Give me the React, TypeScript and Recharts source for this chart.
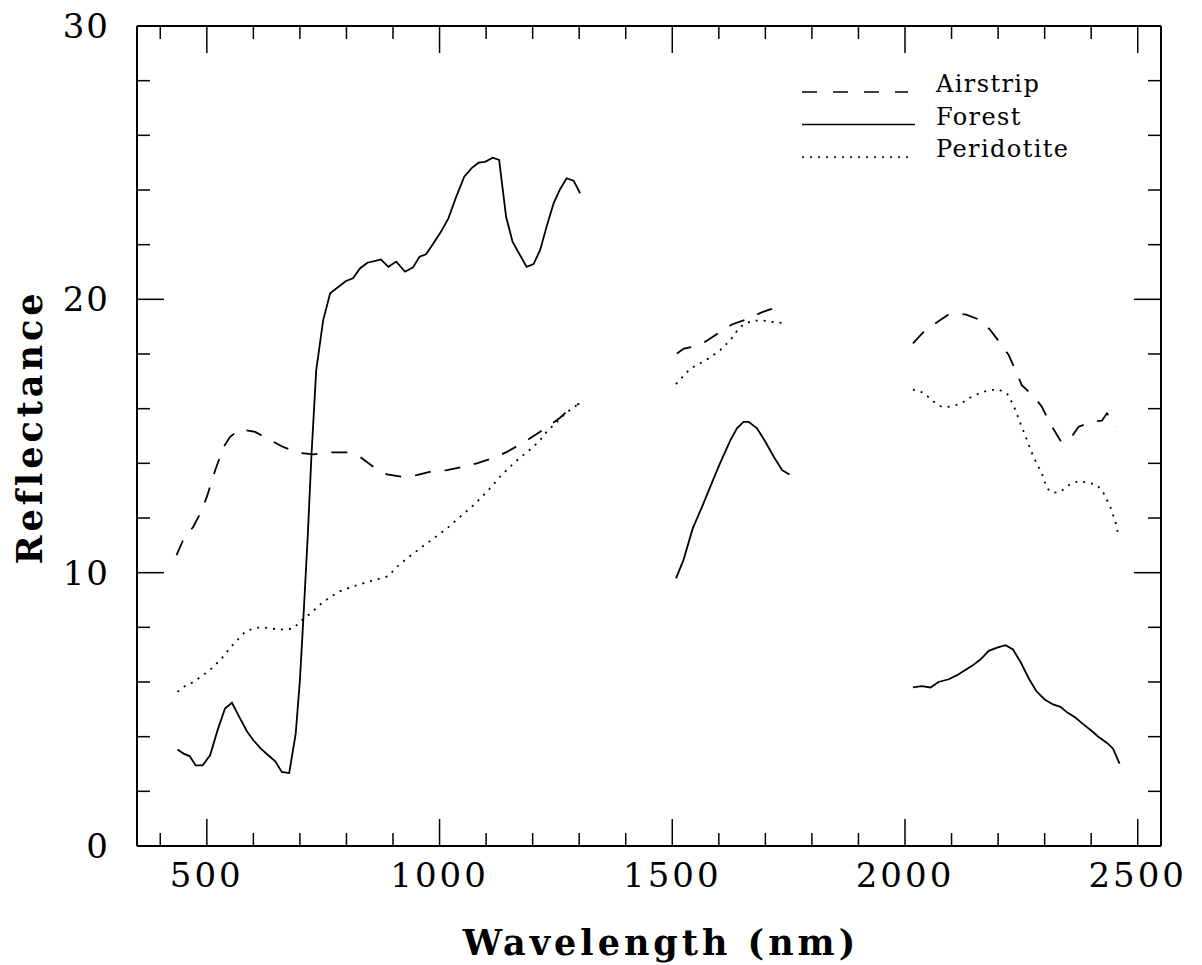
import React from 'react';
import { LineChart, Line, XAxis, YAxis, Legend, Label, ReferenceLine } from 'recharts';

// reflectance spectra, [wavelength nm, reflectance %], split where the water bands cut out
const AIRSTRIP_VNIR = [
  [435, 10.64], [449, 11.19], [471, 11.68], [486, 12.17], [500, 12.77], [518, 13.75], [536, 14.6],
  [550, 14.97], [571, 15.25], [604, 15.15], [636, 14.85], [664, 14.6], [697, 14.38], [729, 14.33],
  [765, 14.4], [801, 14.4], [829, 14.24], [858, 13.87], [887, 13.6], [919, 13.51], [951, 13.57],
  [987, 13.72], [1016, 13.75], [1051, 13.87], [1080, 14.0], [1116, 14.2], [1145, 14.42],
  [1177, 14.73], [1202, 15.0], [1234, 15.36], [1259, 15.67], [1273, 15.89], [1300, 16.19],
];
const AIRSTRIP_SWIR1 = [
  [1510, 18.02], [1525, 18.2], [1542, 18.26], [1571, 18.45], [1603, 18.81], [1628, 19.08],
  [1660, 19.27], [1692, 19.52], [1710, 19.63], [1725, 19.66],
];
const AIRSTRIP_SWIR2 = [
  [2017, 18.39], [2040, 18.81], [2065, 19.12], [2094, 19.45], [2130, 19.45], [2162, 19.24],
  [2183, 18.88], [2205, 18.39], [2223, 17.96], [2237, 17.41], [2251, 16.86], [2276, 16.46],
  [2294, 16.07], [2311, 15.48], [2327, 15.03], [2334, 14.83], [2352, 14.83], [2373, 15.34],
  [2402, 15.52], [2423, 15.56], [2434, 15.83], [2454, 15.34],
];

const FOREST_VNIR = [
  [437, 3.53], [450, 3.38], [463, 3.29], [476, 2.95], [491, 2.95], [507, 3.32], [523, 4.23],
  [539, 5.03], [554, 5.24], [568, 4.78], [586, 4.2], [600, 3.87], [616, 3.56], [632, 3.32],
  [647, 3.1], [661, 2.71], [677, 2.67], [691, 4.11], [700, 6.07], [708, 8.5], [717, 11.4],
  [725, 14.36], [735, 17.4], [750, 19.24], [765, 20.22], [783, 20.46], [799, 20.67], [814, 20.77],
  [829, 21.13], [845, 21.34], [862, 21.41], [874, 21.46], [890, 21.19], [907, 21.38], [926, 21.01],
  [943, 21.17], [957, 21.56], [971, 21.65], [987, 22.05], [1003, 22.47], [1019, 22.96],
  [1036, 23.76], [1053, 24.49], [1069, 24.8], [1084, 25.0], [1098, 25.03], [1114, 25.18],
  [1128, 25.1], [1143, 23.02], [1157, 22.1], [1187, 21.19], [1202, 21.29], [1216, 21.8],
  [1230, 22.66], [1245, 23.51], [1259, 24.03], [1273, 24.43], [1288, 24.34], [1302, 23.88],
];
const FOREST_SWIR1 = [
  [1508, 9.79], [1524, 10.46], [1544, 11.62], [1564, 12.41], [1583, 13.2], [1603, 14.02],
  [1625, 14.85], [1639, 15.28], [1653, 15.52], [1664, 15.52], [1682, 15.28], [1700, 14.79],
  [1718, 14.24], [1736, 13.75], [1752, 13.59],
];
const FOREST_SWIR2 = [
  [2017, 5.8], [2036, 5.85], [2055, 5.8], [2072, 6.0], [2094, 6.1], [2112, 6.25], [2126, 6.4],
  [2144, 6.59], [2162, 6.82], [2180, 7.14], [2198, 7.26], [2216, 7.35], [2232, 7.19], [2248, 6.74],
  [2266, 6.13], [2282, 5.67], [2300, 5.36], [2318, 5.18], [2334, 5.09], [2349, 4.88], [2366, 4.7],
  [2384, 4.44], [2402, 4.2], [2416, 3.99], [2434, 3.77], [2447, 3.56], [2461, 3.01],
];

const PERIDOTITE_VNIR = [
  [437, 5.64], [453, 5.85], [471, 6.0], [492, 6.25], [510, 6.49], [532, 6.86], [553, 7.31],
  [582, 7.83], [604, 7.99], [625, 7.99], [650, 7.93], [668, 7.92], [686, 7.96], [704, 8.26],
  [722, 8.5], [750, 8.93], [783, 9.3], [811, 9.48], [851, 9.69], [890, 9.87], [908, 10.21],
  [930, 10.52], [958, 10.89], [987, 11.25], [1016, 11.62], [1044, 12.04], [1073, 12.47],
  [1102, 12.96], [1130, 13.51], [1159, 14.0], [1184, 14.36], [1200, 14.58], [1216, 14.85],
  [1230, 15.15], [1245, 15.4], [1263, 15.7], [1280, 15.95], [1300, 16.19],
];
const PERIDOTITE_SWIR1 = [
  [1508, 16.9], [1539, 17.47], [1560, 17.66], [1578, 17.84], [1603, 18.14], [1625, 18.51],
  [1643, 18.94], [1657, 19.12], [1675, 19.22], [1696, 19.22], [1722, 19.16], [1743, 19.12],
];
const PERIDOTITE_SWIR2 = [
  [2017, 16.7], [2040, 16.58], [2062, 16.25], [2076, 16.09], [2094, 16.07], [2119, 16.17],
  [2140, 16.41], [2162, 16.58], [2183, 16.68], [2201, 16.7], [2219, 16.56], [2233, 16.13],
  [2248, 15.46], [2262, 14.85], [2276, 14.24], [2294, 13.63], [2305, 13.08], [2319, 12.92],
  [2334, 12.96], [2355, 13.24], [2373, 13.35], [2395, 13.29], [2413, 13.2], [2427, 12.9],
  [2441, 12.41], [2452, 11.86], [2457, 11.49],
];

const X_DOMAIN = [350, 2550];
const Y_DOMAIN = [0, 30];
const X_TICKS = [400, 500, 600, 700, 800, 900, 1000, 1100, 1200, 1300, 1400, 1500, 1600, 1700, 1800, 1900, 2000, 2100, 2200, 2300, 2400, 2500];
const Y_TICKS = [0, 2, 4, 6, 8, 10, 12, 14, 16, 18, 20, 22, 24, 26, 28, 30];

const SERIES = [
  { name: 'Airstrip', segments: [AIRSTRIP_VNIR, AIRSTRIP_SWIR1, AIRSTRIP_SWIR2], dash: '16 14' },
  { name: 'Forest', segments: [FOREST_VNIR, FOREST_SWIR1, FOREST_SWIR2], dash: undefined },
  { name: 'Peridotite', segments: [PERIDOTITE_VNIR, PERIDOTITE_SWIR1, PERIDOTITE_SWIR2], dash: '2 6' },
];

// join the segments with a null row so the line breaks over the gaps
const toRows = (segments: number[][][]) => {
  const rows: { w: number; r: number | null }[] = [];
  segments.forEach((seg, i) => {
    if (i > 0) rows.push({ w: (rows[rows.length - 1].w + seg[0][0]) / 2, r: null });
    seg.forEach(([w, r]) => rows.push({ w, r }));
  });
  return rows;
};

const FONT = '"DejaVu Serif", serif';
const MINOR = 13;
const MAJOR = 27;
// plot box size, used to mirror the ticks onto the top and right frame
const PLOT_W = 1024;
const PLOT_H = 820;

const BottomTick = (props: any) => {
  const { x, y, payload } = props;
  const major = payload.value % 500 === 0;
  const len = major ? MAJOR : MINOR;
  return (
    <g>
      <line x1={x} x2={x} y1={y} y2={y - len} stroke="#000" strokeWidth={1.5} />
      <line x1={x} x2={x} y1={y - PLOT_H} y2={y - PLOT_H + len} stroke="#000" strokeWidth={1.5} />
      {major && (
        <text x={x} y={y + 41} textAnchor="middle" fontFamily={FONT} fontSize={34} fill="#000" letterSpacing={3}>
          {payload.value}
        </text>
      )}
    </g>
  );
};

const LeftTick = (props: any) => {
  const { x, y, payload } = props;
  const major = payload.value % 10 === 0;
  const len = major ? MAJOR : MINOR;
  return (
    <g>
      <line x1={x} x2={x + len} y1={y} y2={y} stroke="#000" strokeWidth={1.5} />
      <line x1={x + PLOT_W} x2={x + PLOT_W - len} y1={y} y2={y} stroke="#000" strokeWidth={1.5} />
      {major && (
        <text x={x - 27} y={y + 12} textAnchor="end" fontFamily={FONT} fontSize={34} fill="#000" letterSpacing={2}>
          {payload.value}
        </text>
      )}
    </g>
  );
};

const LegendBox = () => (
  <svg width={320} height={110}>
    {SERIES.map((s, i) => {
      const y = 24 + i * 32.5;
      return (
        <g key={s.name}>
          <line x1={4} x2={s.dash ? 110 : 117} y1={y} y2={y} stroke="#000" strokeWidth={1.6} strokeDasharray={s.dash === '16 14' ? '15 16' : s.dash} />
          <text x={138} y={y} fontFamily={FONT} fontSize={24} fill="#000" letterSpacing={1.4}>
            {s.name}
          </text>
        </g>
      );
    })}
  </svg>
);

export default function App() {
  const axisLine = { stroke: '#000', strokeWidth: 2 };
  return (
    <div style={{ marginTop: -8 }}>
      <LineChart width={1186} height={963} margin={{ top: 26, right: 33, bottom: 0, left: 0 }}>
        <XAxis
          type="number"
          dataKey="w"
          domain={X_DOMAIN}
          ticks={X_TICKS}
          interval={0}
          tickSize={0}
          tickMargin={0}
          tick={<BottomTick />}
          height={117}
          axisLine={axisLine}
          allowDataOverflow
        >
          <Label
            content={() => (
              <text x={653} y={955} textAnchor="middle" fontFamily={FONT} fontWeight="bold" fontSize={35} letterSpacing={4} fill="#000">
                Wavelength (nm)
              </text>
            )}
          />
        </XAxis>
        <YAxis
          type="number"
          domain={Y_DOMAIN}
          ticks={Y_TICKS}
          interval={0}
          tickSize={0}
          tickMargin={0}
          tick={<LeftTick />}
          width={129}
          axisLine={axisLine}
          allowDataOverflow
        >
          <Label
            content={() => (
              <text x={34} y={427} transform="rotate(-90, 34, 427)" textAnchor="middle" fontFamily={FONT} fontWeight="bold" fontSize={35} letterSpacing={4} fill="#000">
                Reflectance
              </text>
            )}
          />
        </YAxis>
        {/* top and right edges of the frame */}
        <ReferenceLine y={Y_DOMAIN[1]} stroke="#000" strokeWidth={2} />
        <ReferenceLine x={X_DOMAIN[1]} stroke="#000" strokeWidth={2} />
        <Legend
          layout="horizontal"
          verticalAlign="middle"
          align="center"
          wrapperStyle={{ top: 68, left: 790, width: 320, height: 110 }}
          content={() => <LegendBox />}
        />
        {SERIES.map((s) => (
          <Line
            key={s.name}
            name={s.name}
            data={toRows(s.segments)}
            dataKey="r"
            type="linear"
            stroke="#000"
            strokeWidth={1.8}
            strokeDasharray={s.dash}
            dot={false}
            activeDot={false}
            connectNulls={false}
            isAnimationActive={false}
          />
        ))}
      </LineChart>
    </div>
  );
}
